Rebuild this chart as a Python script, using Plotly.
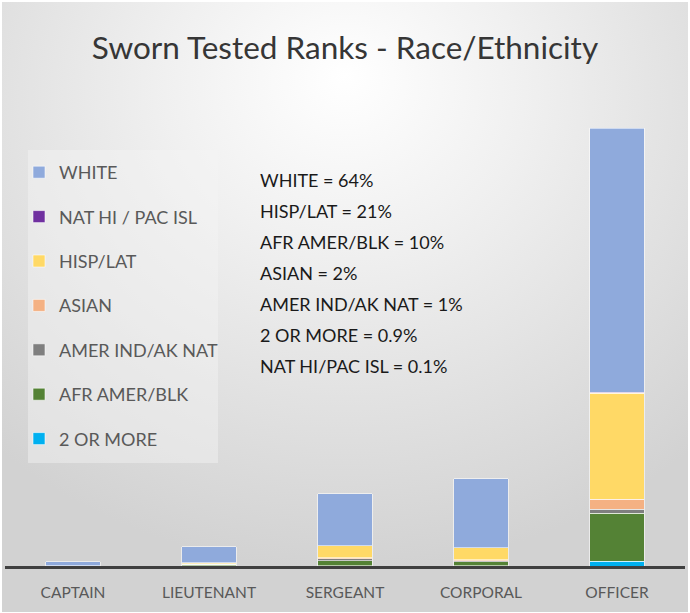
import plotly.graph_objects as go
import base64

categories = ["CAPTAIN", "LIEUTENANT", "SERGEANT", "CORPORAL", "OFFICER"]

white = [4, 16, 52, 69, 264]
nat_hi = [0, 0, 0, 0, 0.6]
hisp = [0, 1, 12, 12, 106]
asian = [0, 0.5, 1, 1, 10]
amer_ind = [0, 0, 2, 1, 4]
afr_amer = [0.3, 1.5, 5, 4, 48]
two_more = [0, 0.3, 0.5, 0.5, 5]

summary_lines = [
    "WHITE = 64%",
    "HISP/LAT = 21%",
    "AFR AMER/BLK = 10%",
    "ASIAN = 2%",
    "AMER IND/AK NAT = 1%",
    "2 OR MORE = 0.9%",
    "NAT HI/PAC ISL = 0.1%",
]

# stacked bottom -> top ; legend rank (top of legend = 1)
series = [
    ("2 OR MORE", two_more, "#00B0F0", 7),
    ("AFR AMER/BLK", afr_amer, "#548235", 6),
    ("AMER IND/AK NAT", amer_ind, "#7F7F7F", 5),
    ("ASIAN", asian, "#F4B183", 4),
    ("HISP/LAT", hisp, "#FFD966", 3),
    ("NAT HI / PAC ISL", nat_hi, "#7030A0", 2),
    ("WHITE", white, "#8FAADC", 1),
]

FONT = "Lato, Liberation Sans, sans-serif"

fig = go.Figure()
for name, vals, color, rank in series:
    fig.add_trace(go.Bar(
        x=categories, y=vals, name=name, legendgroup=name, legendrank=rank,
        marker=dict(color=color, line=dict(color="rgba(255,255,255,0.7)", width=0.8)),
    ))

W, H = 690, 613
L, R, T, B = 5, 5, 66, 47
pw, ph = W - L - R, H - T - B

svg = f'''<svg xmlns="http://www.w3.org/2000/svg" width="{W}" height="{H}">
<defs><radialGradient id="g" cx="50%" cy="18%" r="75%" fx="50%" fy="12%">
<stop offset="0%" stop-color="#ffffff"/><stop offset="35%" stop-color="#f0f0f0"/>
<stop offset="100%" stop-color="#d2d2d2"/></radialGradient></defs>
<rect x="0" y="0" width="{W}" height="{H}" fill="#ffffff"/>
<rect x="2" y="2" width="{W-4}" height="{H-3}" fill="url(#g)"/></svg>'''
src = "data:image/svg+xml;base64," + base64.b64encode(svg.encode()).decode()

fig.add_layout_image(dict(
    source=src, xref="paper", yref="paper",
    x=-L / pw, y=1 + T / ph, sizex=W / pw, sizey=H / ph,
    xanchor="left", yanchor="top", sizing="stretch", layer="below",
))

# legend background panel
fig.add_shape(type="rect", xref="paper", yref="paper",
              x0=(28 - L) / pw, x1=(218 - L) / pw,
              y0=(H - B - 463) / ph, y1=(H - B - 150) / ph,
              fillcolor="rgba(245,245,245,0.45)", line=dict(width=0), layer="below")

for i, line in enumerate(summary_lines):
    fig.add_annotation(
        text=line, xref="paper", yref="paper",
        x=(258 - L) / pw, y=(H - B - (180 + 31 * i)) / ph,
        xanchor="left", yanchor="middle", align="left", showarrow=False,
        font=dict(family=FONT, size=18, color="#1a1a1a"),
    )

fig.update_layout(
    width=W, height=H,
    margin=dict(l=L, r=R, t=T, b=B, pad=0),
    paper_bgcolor="#ffffff", plot_bgcolor="rgba(0,0,0,0)",
    barmode="stack", bargap=0.6,
    title=dict(text="Sworn Tested Ranks - Race/Ethnicity", x=0.5, xanchor="center",
               y=1 - 48 / H, yanchor="middle",
               font=dict(family=FONT, size=31.5, color="#363636")),
    legend=dict(
        x=(19 - L) / pw, y=(H - B - 154) / ph, xanchor="left", yanchor="top",
        traceorder="grouped", tracegroupgap=18,
        bgcolor="rgba(0,0,0,0)",
        font=dict(family=FONT, size=18, color="#595959"),
        itemwidth=30,
    ),
    xaxis=dict(showline=True, linecolor="#3f3f3f", linewidth=3, ticks="",
               ticklabelstandoff=10,
               tickfont=dict(family=FONT, size=15.5, color="#595959"),
               showgrid=False, zeroline=False, fixedrange=True),
    yaxis=dict(range=[0, ph], visible=False, showgrid=False, zeroline=False),
)

fig.write_html("out.html", config={"displayModeBar": False},
               post_script="document.body.style.margin='0';document.body.style.padding='0';")
